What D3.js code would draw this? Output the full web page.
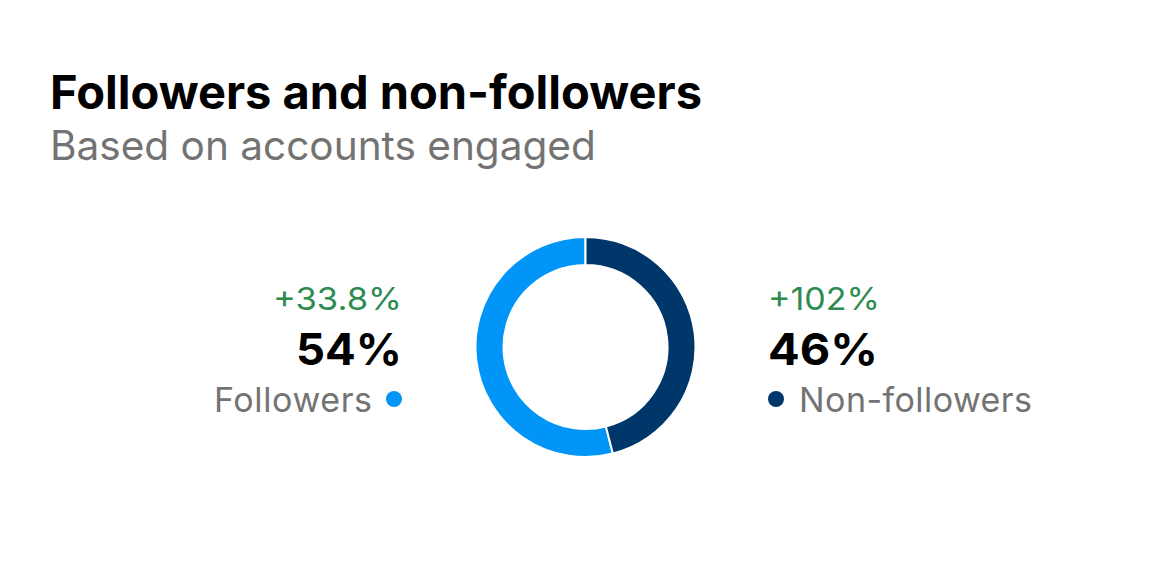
<!DOCTYPE html>
<html>
<head>
<meta charset="utf-8">
<script src="https://cdn.jsdelivr.net/npm/d3@7/dist/d3.min.js"></script>
<style>
  html, body { margin: 0; padding: 0; background: #fff; }
  svg { display: block; }
  text { font-family: Inter, "Noto Sans", "Liberation Sans", sans-serif; }
</style>
</head>
<body>
<svg id="chart" width="1170" height="580"></svg>
<script>
const title = "Followers and non-followers";
const subtitle = "Based on accounts engaged";
const categories = ["Followers", "Non-followers"];
const shares = [54, 46];
const changes = ["+33.8%", "+102%"];
const colors = ["#0095F6", "#00376B"];

const svg = d3.select("#chart");
const W = 1170, H = 580;
svg.append("rect").attr("width", W).attr("height", H).attr("fill", "#fff");

function fit(sel, target) {
  const len = sel.node().getComputedTextLength();
  const fs = parseFloat(sel.attr("font-size"));
  sel.attr("font-size", (fs * target / len).toFixed(2));
}
function spread(sel, target, mode) {
  sel.attr("textLength", target).attr("lengthAdjust", mode || "spacing");
}

const t = svg.append("text").attr("x", 50).attr("y", 109)
  .attr("font-size", 45).attr("font-weight", 700).attr("fill", "#000")
  .text(title);
fit(t, 652);
const st = svg.append("text").attr("x", 50).attr("y", 160)
  .attr("font-size", 40).attr("font-weight", 400).attr("fill", "#737373")
  .text(subtitle);
fit(st, 546);

// donut
const cx = 585.5, cy = 347, rOuter = 110, rInner = 82;
const data = categories.map((c, i) => ({ cat: c, value: shares[i], change: changes[i], color: colors[i] }));
const total = d3.sum(shares);
const pie = d3.pie().sort(null).value(d => d.value)
  .startAngle(-2 * Math.PI * shares[0] / total)
  .endAngle(2 * Math.PI - 2 * Math.PI * shares[0] / total);
const arc = d3.arc().innerRadius(rInner).outerRadius(rOuter);
const g = svg.append("g").attr("transform", `translate(${cx},${cy})`);
g.selectAll("path").data(pie(data)).join("path")
  .attr("d", arc).attr("fill", d => d.data.color)
  .attr("stroke", "#fff").attr("stroke-width", 2);

// side labels
const sides = [
  { anchor: "end", x: 402, dotX: 394, labelX: 372, wChange: 129, wValue: 106, wLabel: 158 },
  { anchor: "start", x: 768, dotX: 776, labelX: 799, wChange: 112, wValue: 110, wLabel: 233 }
];
data.forEach((d, i) => {
  const s = sides[i];
  const c = svg.append("text").attr("x", s.x).attr("y", 310).attr("text-anchor", s.anchor)
    .attr("font-size", 31).attr("fill", "#2E8B4F").text(d.change);
  spread(c, s.wChange, "spacingAndGlyphs");
  const v = svg.append("text").attr("x", s.x).attr("y", 365).attr("text-anchor", s.anchor)
    .attr("font-size", 44).attr("font-weight", 700).attr("fill", "#000").text(d.value + "%");
  spread(v, s.wValue, "spacingAndGlyphs");
  svg.append("circle").attr("cx", s.dotX).attr("cy", 399).attr("r", 8).attr("fill", d.color);
  const l = svg.append("text").attr("x", s.labelX).attr("y", 412).attr("text-anchor", s.anchor)
    .attr("font-size", 34).attr("fill", "#737373").text(d.cat);
  spread(l, s.wLabel);
});
</script>
</body>
</html>
